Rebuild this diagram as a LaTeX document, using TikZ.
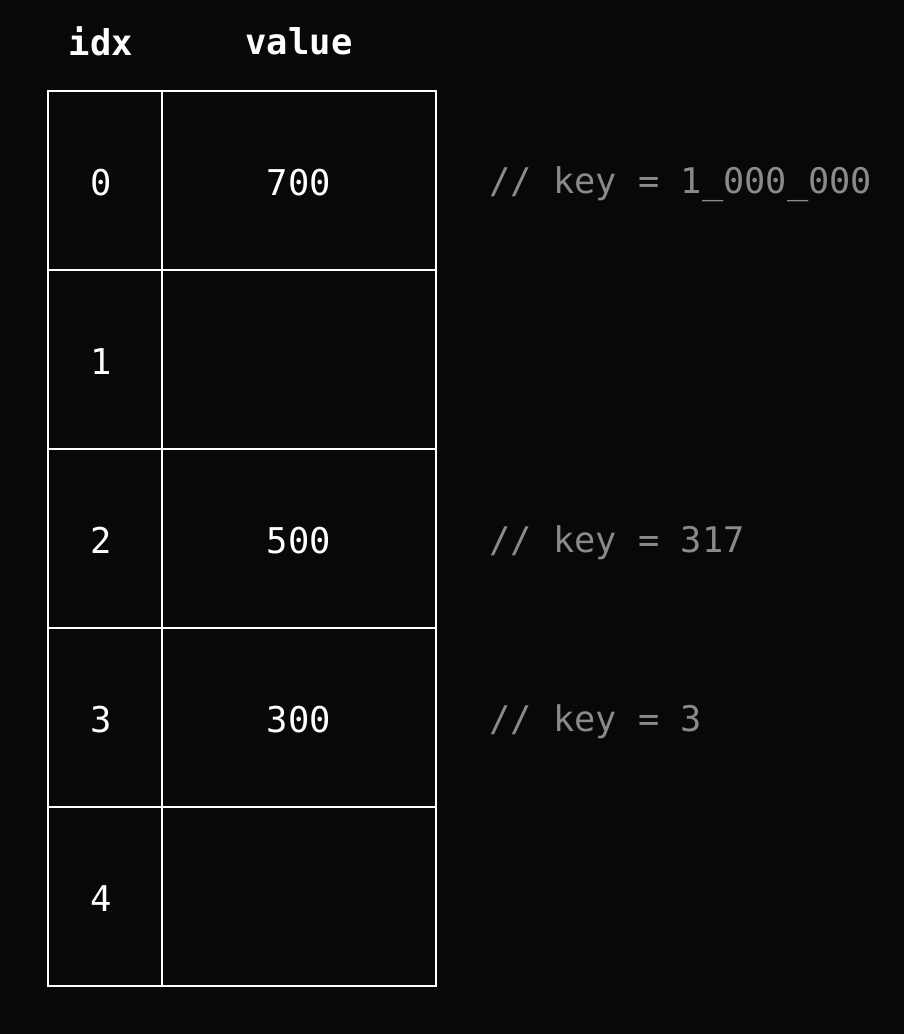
\documentclass[tikz,border=0pt]{standalone}
\usepackage{fontspec}
\setmonofont{DejaVu Sans Mono}
\definecolor{bg}{HTML}{080808}
\definecolor{cmt}{HTML}{8A8A8A}
\begin{document}
\begin{tikzpicture}[x=1pt,y=-1pt,
  cell/.style={draw=white,line width=2pt,inner sep=0pt,minimum height=179pt,text=white},
  idxcell/.style={cell,minimum width=114pt},
  valcell/.style={cell,minimum width=274pt},
  celltext/.style={font=\fontsize{35.5}{40}\selectfont\ttfamily,text=white},
  head/.style={font=\fontsize{35.5}{40}\selectfont\ttfamily\bfseries,text=white},
  comment/.style={anchor=west,font=\fontsize{35.3}{40}\selectfont\ttfamily,text=cmt}]
\fill[bg] (0,0) rectangle (904,1034);
\useasboundingbox (0,0) rectangle (904,1034);
\node[head] (hidx) at (101,41) {idx};
\node[head] (hval) at (299,41) {value};
\foreach \i/\v in {0/700,1/,2/500,3/300,4/}{
  \node[valcell] (v\i) at (299,{180.5+179*\i}) {};
  \node[idxcell] (i\i) at (105,{180.5+179*\i}) {};
  \node[celltext] (t\i) at (101,{182.5+179*\i}) {\i};
  \node[celltext] (w\i) at (299,{182.5+179*\i}) {\v};
}
\node[comment] (c0) at (486,184) {// key = 1\_000\_000};
\node[comment] (c2) at (486,542.5) {// key = 317};
\node[comment] (c3) at (486,721.5) {// key = 3};
\end{tikzpicture}
\end{document}
